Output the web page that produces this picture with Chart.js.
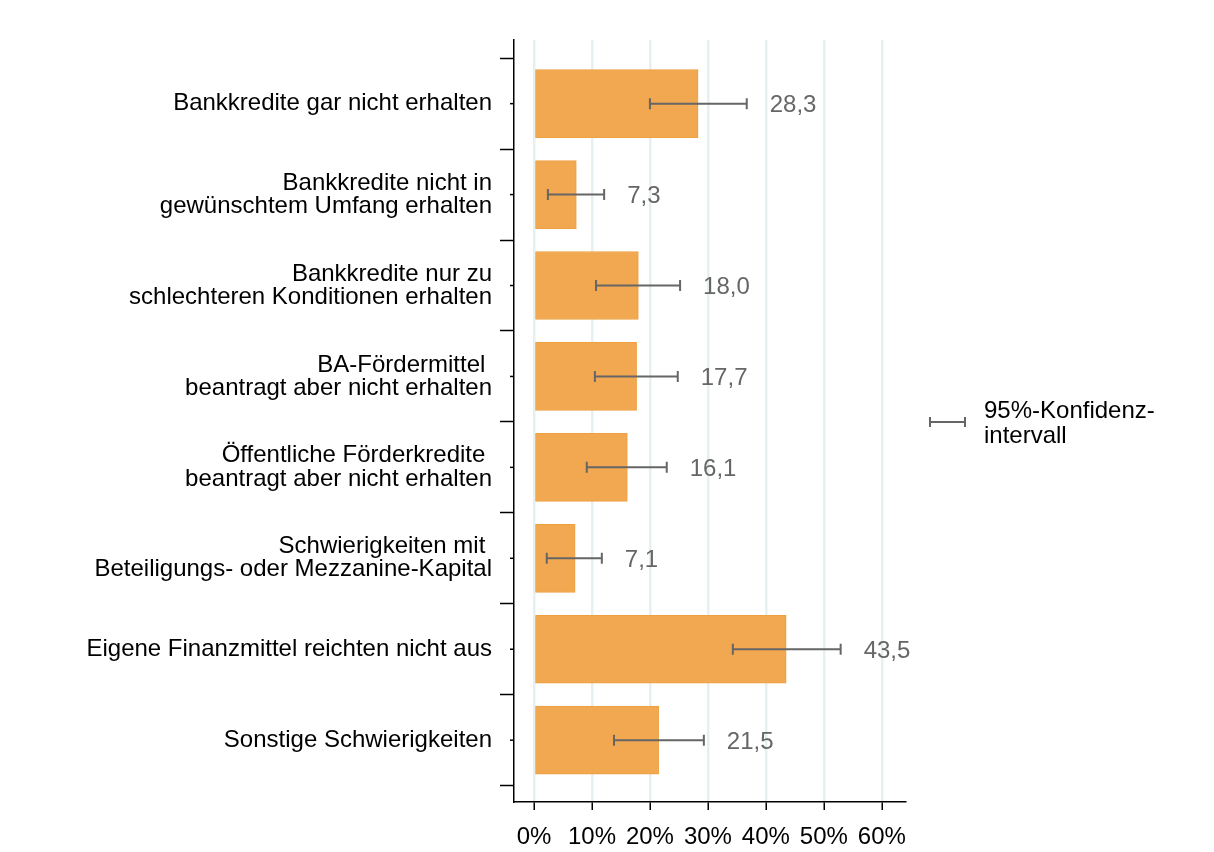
<!DOCTYPE html>
<html lang="de">
  <head>
    <meta charset="UTF-8" />
    <title>Finanzierungsschwierigkeiten</title>
    <script src="https://cdn.jsdelivr.net/npm/chart.js"></script>
    <style>
      body {
        margin: 0;
        background: #fff;
        font-family: "Liberation Sans", Arial, sans-serif;
      }
      #wrap {
        width: 1214px;
        height: 852px;
      }
    </style>
  </head>
  <body>
    <div id="wrap"><canvas id="chart"></canvas></div>

    <script>
      const categories = [
        ["Bankkredite gar nicht erhalten"],
        ["Bankkredite nicht in", "gewünschtem Umfang erhalten"],
        ["Bankkredite nur zu", "schlechteren Konditionen erhalten"],
        ["BA-Fördermittel ", "beantragt aber nicht erhalten"],
        ["Öffentliche Förderkredite ", "beantragt aber nicht erhalten"],
        ["Schwierigkeiten mit ", "Beteiligungs- oder Mezzanine-Kapital"],
        ["Eigene Finanzmittel reichten nicht aus"],
        ["Sonstige Schwierigkeiten"],
      ];
      const values = [28.3, 7.3, 18.0, 17.7, 16.1, 7.1, 43.5, 21.5];
      const ciLow = [20.0, 2.4, 10.7, 10.5, 9.1, 2.2, 34.3, 13.8];
      const ciHigh = [36.7, 12.1, 25.2, 24.8, 22.9, 11.7, 52.9, 29.3];
      const xTicks = [0, 10, 20, 30, 40, 50, 60];
      const legendText = ["95%-Konfidenz-", "intervall"];

      const font = "'Liberation Sans', Arial, sans-serif";

      // error bars, value labels, small center ticks and the legend
      const extras = {
        id: "extras",
        afterDatasetsDraw(chart) {
          const { ctx, scales } = chart;
          const x = scales.x;
          const y = scales.y;
          ctx.save();
          values.forEach((v, i) => {
            const cy = y.getPixelForValue(i);
            const x1 = x.getPixelForValue(ciLow[i]);
            const x2 = x.getPixelForValue(ciHigh[i]);
            ctx.strokeStyle = "#666";
            ctx.lineWidth = 2;
            ctx.beginPath();
            ctx.moveTo(x1, cy);
            ctx.lineTo(x2, cy);
            ctx.moveTo(x1, cy - 5.5);
            ctx.lineTo(x1, cy + 5.5);
            ctx.moveTo(x2, cy - 5.5);
            ctx.lineTo(x2, cy + 5.5);
            ctx.stroke();

            ctx.fillStyle = "#666";
            ctx.font = "24px " + font;
            ctx.textAlign = "left";
            ctx.textBaseline = "middle";
            ctx.fillText(v.toFixed(1).replace(".", ","), x2 + 23, cy + 2);

            // short tick on the axis at the category center
            ctx.strokeStyle = "#000";
            ctx.lineWidth = 1.5;
            ctx.beginPath();
            ctx.moveTo(y.right - 4, cy);
            ctx.lineTo(y.right, cy);
            ctx.stroke();
          });

          // legend
          const ly = 422;
          ctx.strokeStyle = "#666";
          ctx.lineWidth = 2;
          ctx.beginPath();
          ctx.moveTo(930, ly);
          ctx.lineTo(965, ly);
          ctx.moveTo(930, ly - 5);
          ctx.lineTo(930, ly + 5);
          ctx.moveTo(965, ly - 5);
          ctx.lineTo(965, ly + 5);
          ctx.stroke();
          ctx.fillStyle = "#000";
          ctx.font = "24px " + font;
          ctx.textAlign = "left";
          ctx.textBaseline = "alphabetic";
          ctx.fillText(legendText[0], 984, 418);
          ctx.fillText(legendText[1], 984, 443);
          ctx.restore();
        },
      };

      new Chart(document.getElementById("chart"), {
        type: "bar",
        data: {
          datasets: [
            {
              data: values.map((v, i) => ({ x: v, y: i })),
              backgroundColor: "#f1a851",
              borderColor: "#eea040",
              borderWidth: 1,
              barThickness: 68,
            },
          ],
        },
        options: {
          indexAxis: "y",
          responsive: true,
          maintainAspectRatio: false,
          animation: false,
          layout: { padding: { top: 40, right: 309, left: 0, bottom: 0 } },
          plugins: {
            legend: { display: false },
            tooltip: { enabled: false },
          },
          scales: {
            x: {
              type: "linear",
              min: -3.45,
              max: 64,
              afterBuildTicks: (s) => {
                s.ticks = xTicks.map((v) => ({ value: v }));
              },
              afterFit: (s) => {
                s.height = 50;
              },
              border: { color: "#000", width: 1.5 },
              grid: {
                color: "#e6eff1",
                lineWidth: 2.5,
                tickColor: "#000",
                tickWidth: 1.5,
                tickLength: 8,
              },
              ticks: {
                padding: 13,
                color: "#000",
                font: { family: font, size: 24 },
                callback: (v) => v + "%",
              },
            },
            y: {
              type: "linear",
              reverse: true,
              offset: false,
              min: -0.7,
              max: 7.68,
              afterBuildTicks: (s) => {
                const t = [];
                for (let v = -0.5; v <= 7.5; v += 0.5) t.push({ value: v });
                s.ticks = t;
              },
              afterFit: (s) => {
                s.width = 514;
              },
              border: { color: "#000", width: 1.5 },
              grid: {
                offset: false,
                drawOnChartArea: false,
                tickLength: 14,
                tickWidth: 1.5,
                tickColor: (c) =>
                  c.tick && Number.isInteger(c.tick.value)
                    ? "rgba(0,0,0,0)"
                    : "#000",
              },
              ticks: {
                autoSkip: false,
                padding: 8,
                color: "#000",
                font: { family: font, size: 24, lineHeight: 0.96 },
                callback: (v) => (Number.isInteger(v) ? categories[v] : ""),
              },
            },
          },
        },
        plugins: [extras],
      });
    </script>
  </body>
</html>
